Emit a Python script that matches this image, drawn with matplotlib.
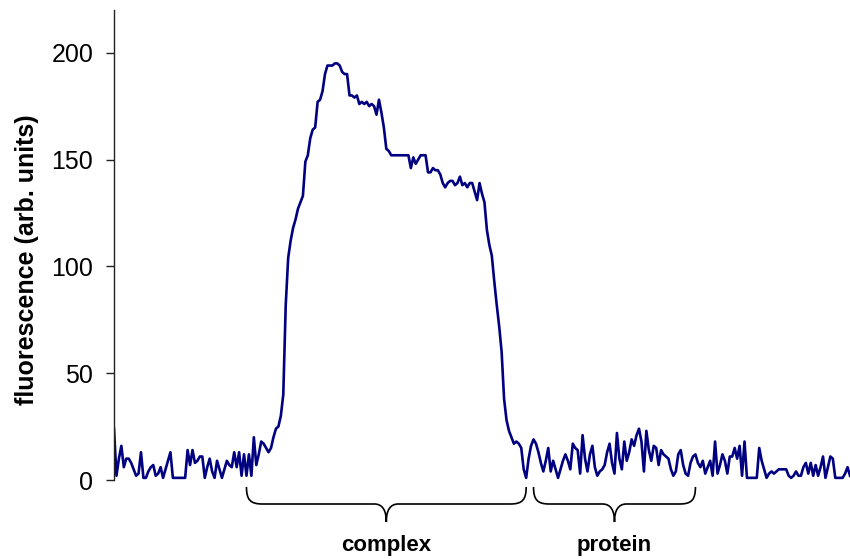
import matplotlib
matplotlib.use("Agg")
import matplotlib.pyplot as plt
import numpy as np
from matplotlib.path import Path
from matplotlib.patches import PathPatch

plt.rcParams['font.family'] = ['Liberation Sans', 'DejaVu Sans']

# fluorescence intensity profile along the scan (arb. units), evenly sampled
fluorescence = [
    24, 2, 10, 16, 6, 10, 10, 8, 5, 2,
    3, 13, 1, 1, 4, 6, 7, 2, 3, 6,
    1, 5, 9, 13, 1, 1, 1, 1, 1, 1,
    14, 7, 14, 8, 9, 11, 11, 1, 6, 10,
    4, 1, 9, 5, 1, 5, 9, 7, 6, 13,
    6, 13, 2, 12, 2, 12, 2, 20, 7, 12,
    18, 17, 15, 13, 15, 20, 24, 25, 30, 40,
    82, 104, 112, 118, 122, 127, 130, 133, 149, 152,
    160, 164, 165, 177, 178, 182, 190, 194, 194, 194,
    195, 195, 194, 191, 190, 190, 180, 180, 179, 180,
    176, 177, 176, 177, 175, 176, 175, 171, 178, 172,
    165, 155, 154, 152, 152, 152, 152, 152, 152, 152,
    152, 146, 151, 148, 150, 152, 152, 152, 144, 144,
    146, 145, 145, 143, 139, 137, 139, 140, 140, 138,
    139, 142, 138, 139, 137, 139, 139, 135, 131, 139,
    134, 130, 117, 110, 105, 93, 82, 72, 60, 38,
    28, 23, 20, 17, 18, 17, 15, 5, 1, 10,
    16, 19, 17, 13, 8, 4, 9, 15, 4, 9,
    5, 1, 5, 9, 12, 9, 5, 17, 15, 14,
    3, 21, 10, 4, 12, 16, 6, 2, 4, 5,
    7, 13, 17, 8, 3, 22, 10, 5, 18, 9,
    13, 19, 16, 21, 24, 18, 4, 23, 14, 9,
    16, 15, 7, 14, 12, 11, 10, 5, 2, 4,
    12, 14, 7, 3, 2, 8, 11, 12, 8, 6,
    9, 3, 6, 9, 2, 18, 3, 7, 12, 9,
    3, 11, 11, 15, 10, 16, 2, 18, 1, 1,
    1, 1, 1, 15, 9, 5, 1, 3, 4, 3,
    4, 5, 5, 5, 5, 2, 1, 2, 4, 2,
    2, 6, 8, 3, 8, 2, 7, 2, 6, 11,
    1, 6, 11, 10, 1, 1, 1, 1, 3, 6,
    2,
]

y_ticks = [0, 50, 100, 150, 200]
y_max = 220

# sample ranges belonging to each band
regions = ["complex", "protein"]
region_spans = [(54, 168), (171, 237)]

W, H = 850, 559
fig = plt.figure(figsize=(W / 100, H / 100), dpi=100)
ax_left, ax_right, ax_bottom, ax_top = 114, 850, 480, 10
ax = fig.add_axes([ax_left / W, (H - ax_bottom) / H,
                   (ax_right - ax_left) / W, (ax_bottom - ax_top) / H])

positions = np.arange(len(fluorescence))
ax.plot(positions, fluorescence, color='#000080', lw=1.9, solid_joinstyle='round')

ax.set_xlim(0, len(fluorescence) - 1)
ax.set_ylim(0, y_max)
ax.set_yticks(y_ticks)
ax.set_xticks([])
for s in ('top', 'right', 'bottom'):
    ax.spines[s].set_visible(False)
ax.spines['left'].set_linewidth(1.0)
ax.spines['left'].set_color('#222222')
ax.tick_params(axis='y', direction='out', length=6, width=1.0, pad=9,
               labelsize=18, colors='#222222', labelcolor='black')

fig.text(27 / W, (H - 260) / H, 'fluorescence (arb. units)', rotation=90,
         ha='center', va='center', fontsize=18, fontweight='bold')

# curly braces below the trace marking each band
ax_h_px = ax_bottom - ax_top
units_per_px = (len(fluorescence) - 1) / (ax_right - ax_left)
trans = ax.get_xaxis_transform()


def brace(x0, x1):
    xm = 0.5 * (x0 + x1)
    ux = units_per_px
    top, mid, tip = -7 / ax_h_px, -24 / ax_h_px, -42 / ax_h_px
    bend = -20 / ax_h_px
    inner = -30 / ax_h_px
    verts = [
        (x0, top),
        (x0, bend), (x0 + 4 * ux, mid), (x0 + 16 * ux, mid),
        (xm - 12 * ux, mid),
        (xm - 4 * ux, mid), (xm, inner), (xm, tip),
        (xm, inner), (xm + 4 * ux, mid), (xm + 12 * ux, mid),
        (x1 - 16 * ux, mid),
        (x1 - 4 * ux, mid), (x1, bend), (x1, top),
    ]
    codes = [Path.MOVETO,
             Path.CURVE4, Path.CURVE4, Path.CURVE4,
             Path.LINETO,
             Path.CURVE4, Path.CURVE4, Path.CURVE4,
             Path.CURVE4, Path.CURVE4, Path.CURVE4,
             Path.LINETO,
             Path.CURVE4, Path.CURVE4, Path.CURVE4]
    patch = PathPatch(Path(verts, codes), facecolor='none', edgecolor='black',
                      lw=1.2, transform=trans, clip_on=False)
    ax.add_patch(patch)
    return xm


for name, (a, b) in zip(regions, region_spans):
    xm = brace(a, b)
    ax.text(xm, -(545 - ax_bottom) / ax_h_px, name, transform=trans,
            ha='center', va='center', fontsize=16, fontweight='bold',
            clip_on=False)

fig.savefig('out.png', dpi=100)
